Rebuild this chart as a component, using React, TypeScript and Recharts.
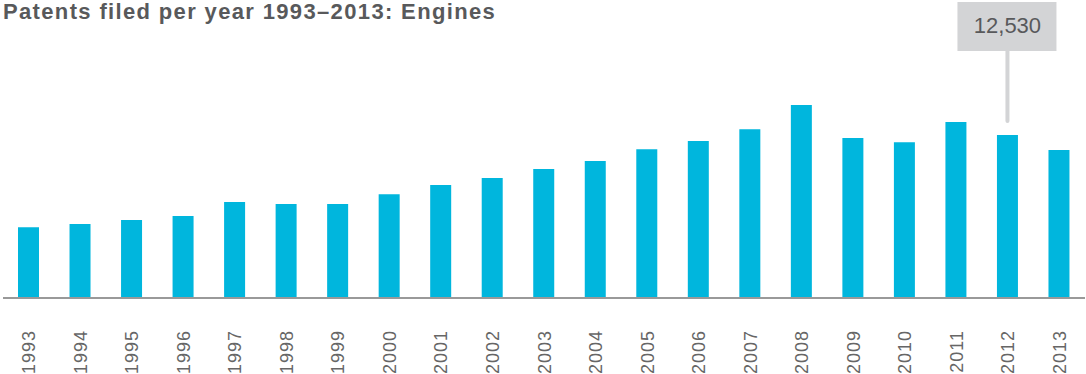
import { BarChart, Bar, XAxis, YAxis, LabelList } from "recharts";

const YEARS = [
  "1993", "1994", "1995", "1996", "1997", "1998", "1999", "2000", "2001", "2002", "2003",
  "2004", "2005", "2006", "2007", "2008", "2009", "2010", "2011", "2012", "2013",
];

const PATENTS = [
  5450, 5690, 6000, 6300, 7380, 7230, 7230, 7990, 8690, 9230, 9920,
  10530, 11450, 12070, 12990, 14840, 12300, 11990, 13530, 12530, 11380,
];

const HIGHLIGHT_YEAR = "2012";

const data = YEARS.map((year, i) => ({ year, value: PATENTS[i] }));

const BAR_COLOR = "#00b6dd";
const TEXT_COLOR = "#58595b";
const CALLOUT_FILL = "#d3d4d6";

function YearTick(props: any) {
  const { x, payload } = props;
  return (
    <text
      transform={`translate(${x + 6.5},330) rotate(-90)`}
      textAnchor="end"
      fontSize={18}
      letterSpacing={1}
      fill="#666"
      fontFamily="'Liberation Sans', Arial, sans-serif"
    >
      {payload.value}
    </text>
  );
}

function Callout(props: any) {
  const { x, y, width, value, index } = props;
  if (YEARS[index] !== HIGHLIGHT_YEAR) return null;
  const cx = x + width / 2;
  return (
    <g>
      <line
        x1={cx}
        x2={cx}
        y1={51}
        y2={y - 14}
        stroke={CALLOUT_FILL}
        strokeWidth={4}
        strokeLinecap="round"
      />
      <rect x={cx - 50} y={2} width={99} height={49} fill={CALLOUT_FILL} />
      <text
        x={cx}
        y={33}
        textAnchor="middle"
        fontSize={22}
        fill={TEXT_COLOR}
        fontFamily="'Liberation Sans', Arial, sans-serif"
      >
        {Number(value).toLocaleString("en-US")}
      </text>
    </g>
  );
}

export default function App() {
  return (
    <div style={{ position: "absolute", left: 0, top: 0, width: 1086, height: 374, background: "#fff" }}>
      <div
        style={{
          position: "absolute",
          left: 3,
          top: -1,
          fontFamily: "'Liberation Sans', Arial, sans-serif",
          fontWeight: "bold",
          fontSize: 22,
          letterSpacing: 1.35,
          color: TEXT_COLOR,
          whiteSpace: "nowrap",
          lineHeight: "26px",
        }}
      >
        Patents filed per year 1993–2013: Engines
      </div>
      <BarChart
        width={1086}
        height={374}
        data={data}
        margin={{ top: 38, right: 1, left: 3, bottom: 0 }}
        style={{ position: "absolute", left: 0, top: 0 }}
      >
        <XAxis
          dataKey="year"
          interval={0}
          height={76}
          tickLine={false}
          axisLine={{ stroke: "#999", strokeWidth: 2 }}
          tick={<YearTick />}
        />
        <YAxis hide domain={[0, 20000]} />
        <Bar dataKey="value" fill={BAR_COLOR} barSize={21} isAnimationActive={false}>
          <LabelList dataKey="value" content={<Callout />} />
        </Bar>
      </BarChart>
    </div>
  );
}
